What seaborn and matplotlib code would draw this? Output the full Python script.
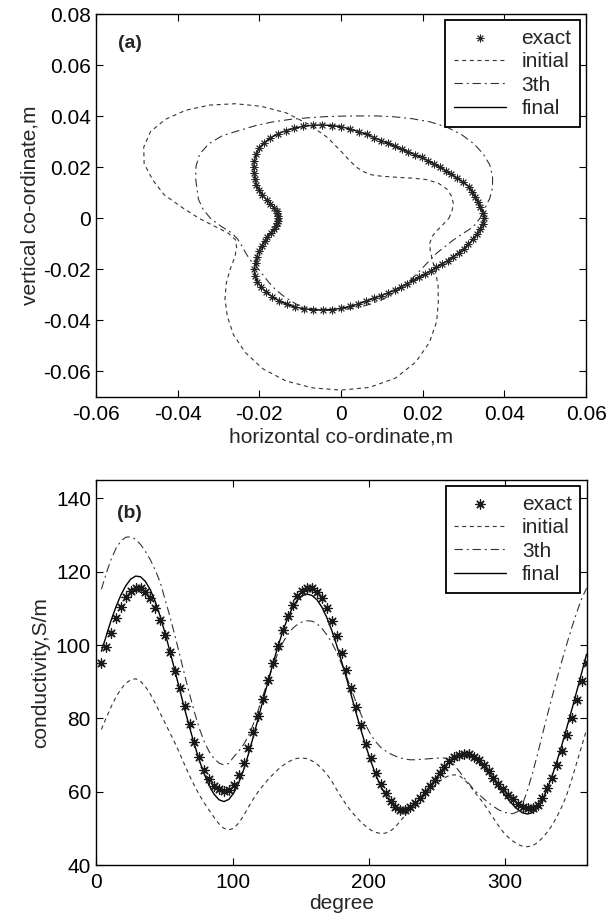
"""
Two-panel reconstruction figure: (a) boundary shape, (b) conductivity profile.
Exact profile vs initial guess, 3rd iteration and final result.
"""

import numpy as np
import pandas as pd
import matplotlib
matplotlib.use("Agg")
import matplotlib.pyplot as plt
from matplotlib.ticker import FuncFormatter
import seaborn as sns

# ──────────────────────────────────────────────
# Panel (a): boundary radius (m) against polar angle (deg)
# ──────────────────────────────────────────────
shape_angle_exact = np.arange(0, 360, 3.6)   # 100 samples round the boundary
exact_r = [
    0.0351, 0.0349, 0.0344, 0.0341, 0.0339, 0.0338, 0.0337, 0.0331, 0.0325, 0.0320,
    0.0317, 0.0314, 0.0312, 0.0310, 0.0309, 0.0308, 0.0308, 0.0308, 0.0311, 0.0315,
    0.0320, 0.0326, 0.0335, 0.0342, 0.0350, 0.0359, 0.0364, 0.0368, 0.0371, 0.0372,
    0.0371, 0.0369, 0.0365, 0.0359, 0.0351, 0.0341, 0.0327, 0.0310, 0.0293, 0.0276,
    0.0261, 0.0246, 0.0230, 0.0213, 0.0196, 0.0182, 0.0169, 0.0161, 0.0157, 0.0155,
    0.0154, 0.0155, 0.0158, 0.0163, 0.0170, 0.0181, 0.0194, 0.0207, 0.0222, 0.0238,
    0.0255, 0.0272, 0.0292, 0.0309, 0.0322, 0.0333, 0.0342, 0.0350, 0.0357, 0.0362,
    0.0365, 0.0366, 0.0365, 0.0362, 0.0358, 0.0353, 0.0346, 0.0338, 0.0330, 0.0323,
    0.0318, 0.0314, 0.0310, 0.0306, 0.0303, 0.0301, 0.0300, 0.0300, 0.0301, 0.0302,
    0.0305, 0.0309, 0.0313, 0.0318, 0.0323, 0.0328, 0.0333, 0.0338, 0.0343, 0.0347,
]
final_r = exact_r          # final shape sits on the exact one

shape_angle_iter = np.arange(0, 360, 6.0)    # 60 samples
initial_r = [
    0.0264, 0.0273, 0.0281, 0.0284, 0.0283, 0.0275, 0.0258, 0.0235, 0.0215, 0.0201,
    0.0191, 0.0186, 0.0189, 0.0200, 0.0223, 0.0262, 0.0318, 0.0375, 0.0434, 0.0480,
    0.0518, 0.0548, 0.0569, 0.0579, 0.0577, 0.0558, 0.0528, 0.0485, 0.0443, 0.0390,
    0.0348, 0.0310, 0.0282, 0.0272, 0.0280, 0.0300, 0.0335, 0.0378, 0.0425, 0.0474,
    0.0527, 0.0576, 0.0620, 0.0651, 0.0668, 0.0673, 0.0666, 0.0640, 0.0592, 0.0532,
    0.0468, 0.0405, 0.0355, 0.0311, 0.0276, 0.0252, 0.0238, 0.0234, 0.0239, 0.0250,
]
third_r = [
    0.0340, 0.0353, 0.0372, 0.0390, 0.0406, 0.0420, 0.0430, 0.0437, 0.0441, 0.0441,
    0.0436, 0.0427, 0.0418, 0.0410, 0.0403, 0.0400, 0.0400, 0.0402, 0.0407, 0.0413,
    0.0419, 0.0425, 0.0435, 0.0436, 0.0428, 0.0410, 0.0390, 0.0371, 0.0357, 0.0340,
    0.0320, 0.0296, 0.0274, 0.0266, 0.0266, 0.0270, 0.0276, 0.0280, 0.0290, 0.0305,
    0.0322, 0.0338, 0.0354, 0.0362, 0.0362, 0.0358, 0.0353, 0.0344, 0.0333, 0.0320,
    0.0306, 0.0294, 0.0284, 0.0276, 0.0272, 0.0271, 0.0277, 0.0286, 0.0302, 0.0325,
]

# ──────────────────────────────────────────────
# Panel (b): conductivity (S/m) against degree
# ──────────────────────────────────────────────
degree = np.arange(1, 101) * 3.6
cond_exact = [
    95.0, 99.4, 103.4, 107.3, 110.4, 113.0, 114.7, 115.6, 115.5, 114.5,
    112.7, 110.2, 106.7, 102.8, 98.0, 93.0, 88.2, 83.3, 78.4, 73.6,
    69.4, 66.0, 63.4, 61.6, 60.6, 60.1, 60.4, 61.9, 64.5, 67.8,
    71.9, 76.2, 80.6, 85.4, 90.4, 95.0, 99.8, 104.2, 108.0, 110.9,
    113.3, 114.8, 115.6, 115.5, 114.5, 112.7, 110.1, 106.5, 102.4, 97.9,
    93.2, 88.2, 83.1, 78.1, 73.1, 69.1, 65.2, 62.1, 59.6, 57.4,
    55.9, 55.1, 55.1, 55.7, 56.9, 58.3, 59.8, 61.6, 63.3, 65.0,
    66.8, 68.3, 69.4, 70.1, 70.4, 70.2, 69.5, 68.6, 67.2, 65.6,
    63.8, 62.2, 60.6, 59.2, 57.9, 56.7, 55.8, 55.5, 55.6, 56.5,
    58.2, 61.0, 63.7, 67.3, 71.0, 75.5, 80.1, 85.1, 90.1, 95.1,
]
cond_initial = [
    77.0, 80.2, 83.2, 85.9, 88.0, 89.6, 90.5, 90.8, 90.1, 88.6,
    86.6, 84.1, 81.4, 78.7, 76.0, 73.3, 70.4, 67.3, 64.3, 61.6,
    59.1, 56.9, 54.9, 53.0, 51.2, 50.0, 49.6, 50.0, 51.4, 53.4,
    55.8, 58.0, 60.0, 61.7, 63.3, 64.7, 66.0, 67.1, 68.0, 68.7,
    69.1, 69.2, 69.0, 68.4, 67.5, 66.3, 64.8, 62.9, 60.6, 58.4,
    56.4, 54.6, 53.1, 51.7, 50.5, 49.5, 48.9, 48.6, 48.7, 49.3,
    50.4, 52.0, 53.6, 55.2, 56.6, 57.8, 59.0, 60.3, 61.6, 62.8,
    63.8, 64.4, 64.6, 64.4, 63.4, 61.9, 60.2, 58.5, 56.8, 54.8,
    52.8, 50.8, 49.0, 47.6, 46.5, 45.6, 45.1, 45.0, 45.3, 46.1,
    47.4, 49.0, 50.9, 53.3, 56.0, 59.3, 63.4, 67.9, 72.4, 76.9,
]
cond_third = [
    115.2, 119.6, 123.4, 126.4, 128.4, 129.4, 129.5, 128.8, 127.4, 125.5,
    123.2, 120.4, 117.1, 112.4, 107.7, 102.6, 97.2, 91.8, 86.6, 81.6,
    77.2, 73.6, 70.9, 69.0, 67.8, 67.3, 67.7, 69.5, 71.0, 72.8,
    75.2, 78.4, 82.2, 86.3, 90.3, 94.2, 97.7, 100.6, 102.8, 104.5,
    105.6, 106.3, 106.6, 106.5, 105.8, 104.5, 102.8, 100.7, 98.0, 94.9,
    91.5, 87.9, 84.3, 81.0, 78.0, 75.5, 73.6, 72.1, 71.1, 70.3,
    69.7, 69.2, 68.9, 68.7, 68.7, 68.8, 68.9, 69.0, 69.1, 69.2,
    69.2, 68.6, 67.3, 65.6, 63.8, 62.2, 60.6, 59.3, 58.1, 57.0,
    56.0, 55.1, 54.5, 54.1, 54.0, 54.6, 56.8, 60.6, 65.2, 70.2,
    75.6, 80.9, 86.0, 91.0, 95.8, 100.4, 104.8, 108.9, 112.6, 115.5,
]
cond_final = [
    98.3, 102.5, 106.8, 110.5, 113.7, 116.2, 118.0, 118.8, 118.6, 117.3,
    115.0, 111.8, 107.8, 103.2, 98.2, 93.0, 87.7, 82.5, 77.5, 72.8,
    68.5, 64.8, 61.6, 59.3, 57.8, 57.3, 57.9, 59.6, 62.3, 65.9,
    70.2, 75.0, 80.0, 85.0, 90.0, 94.9, 99.5, 103.7, 107.3, 110.2,
    112.3, 113.5, 113.9, 113.5, 112.3, 110.3, 107.5, 104.0, 100.0, 95.6,
    91.0, 86.2, 81.4, 76.7, 72.3, 68.2, 64.6, 61.5, 59.0, 57.1,
    55.7, 55.0, 55.0, 55.6, 56.7, 58.1, 59.7, 61.4, 63.2, 65.0,
    66.7, 68.2, 69.3, 70.0, 70.2, 69.9, 69.2, 68.1, 66.7, 65.1,
    63.3, 61.5, 59.7, 58.0, 56.4, 55.1, 54.2, 53.9, 54.3, 55.6,
    57.8, 60.8, 64.4, 68.5, 72.9, 77.6, 82.4, 87.4, 92.4, 97.5,
]

# ──────────────────────────────────────────────
# Styling
# ──────────────────────────────────────────────
sns.set_style("ticks")
plt.rcParams["font.family"] = ["Liberation Sans", "DejaVu Sans"]
plt.rcParams["axes.unicode_minus"] = False
plt.rcParams["lines.scale_dashes"] = False

FS = 15
STAR = (8, 2, 0)
INITIAL_LS = (0, (2.9, 2.6))
THIRD_LS = (0, (6.0, 2.8, 1.4, 2.8))
LINE_C = "0.2"


def polar_to_xy(angle_deg, radius, close=True):
    a = np.deg2rad(np.asarray(angle_deg, dtype=float))
    r = np.asarray(radius, dtype=float)
    df = pd.DataFrame({"x": r * np.cos(a), "y": r * np.sin(a)})
    if close:
        df = pd.concat([df, df.iloc[:1]], ignore_index=True)
    return df


def matlab_fmt(v, _pos):
    v = round(v, 6)
    return "0" if v == 0 else f"{v:g}"


def style_axes(ax):
    for s in ax.spines.values():
        s.set_linewidth(1.0)
        s.set_color("black")
    ax.tick_params(direction="in", top=True, right=True, length=5, width=0.8,
                   labelsize=FS, colors="black")
    ax.tick_params(axis="x", pad=6)
    ax.tick_params(axis="y", pad=4)
    ax.xaxis.set_major_formatter(FuncFormatter(matlab_fmt))
    ax.yaxis.set_major_formatter(FuncFormatter(matlab_fmt))


def add_legend(ax):
    leg = ax.legend(loc="upper right", fontsize=FS, frameon=True, fancybox=False,
                    edgecolor="black", framealpha=1, borderaxespad=0.3,
                    handlelength=2.5, handletextpad=0.75, labelspacing=0.22,
                    borderpad=0.4)
    leg.get_frame().set_linewidth(1.3)


fig = plt.figure(figsize=(6.08, 9.22), dpi=100)
ax1 = fig.add_axes([0.158, 0.5694, 0.806, 0.4154])
ax2 = fig.add_axes([0.1587, 0.0618, 0.806, 0.4176])

# ── (a) shape ──
ex = polar_to_xy(shape_angle_exact, exact_r, close=False)
sns.scatterplot(data=ex, x="x", y="y", ax=ax1, marker=STAR, s=26, color="0.15",
                linewidth=0.7, label="exact", zorder=4)
ini = polar_to_xy(shape_angle_iter, initial_r)
sns.lineplot(data=ini, x="x", y="y", ax=ax1, sort=False, estimator=None,
             color=LINE_C, lw=0.8, linestyle=INITIAL_LS, label="initial")
thr = polar_to_xy(shape_angle_iter, third_r)
sns.lineplot(data=thr, x="x", y="y", ax=ax1, sort=False, estimator=None,
             color=LINE_C, lw=0.8, linestyle=THIRD_LS, label="3th")
fin = polar_to_xy(shape_angle_exact, final_r)
sns.lineplot(data=fin, x="x", y="y", ax=ax1, sort=False, estimator=None,
             color="black", lw=1.0, label="final", zorder=3)

ax1.set_xlim(-0.06, 0.06)
ax1.set_ylim(-0.07, 0.08)
ax1.set_xticks(np.arange(-0.06, 0.061, 0.02))
ax1.set_yticks(np.arange(-0.06, 0.081, 0.02))
style_axes(ax1)
ax1.set_xlabel("horizontal co-ordinate,m", fontsize=FS, labelpad=2)
ax1.set_ylabel("vertical co-ordinate,m", fontsize=FS, labelpad=2)
ax1.text(0.07, 0.924, "(a)", transform=ax1.transAxes, fontsize=14,
         fontweight="bold", ha="center", va="center")
add_legend(ax1)

# ── (b) conductivity ──
cond = pd.DataFrame({"degree": degree, "exact": cond_exact, "initial": cond_initial,
                     "third": cond_third, "final": cond_final})
sns.scatterplot(data=cond, x="degree", y="exact", ax=ax2, marker=STAR, s=45,
                color="0.1", linewidth=0.9, label="exact", zorder=4)
sns.lineplot(data=cond, x="degree", y="initial", ax=ax2, color=LINE_C, lw=0.8,
             linestyle=INITIAL_LS, label="initial")
sns.lineplot(data=cond, x="degree", y="third", ax=ax2, color=LINE_C, lw=0.8,
             linestyle=THIRD_LS, label="3th")
sns.lineplot(data=cond, x="degree", y="final", ax=ax2, color="black", lw=1.0,
             label="final", zorder=3)

ax2.set_xlim(0, 360)
ax2.set_ylim(40, 145)
ax2.set_xticks([0, 100, 200, 300])
ax2.set_yticks(np.arange(40, 141, 20))
style_axes(ax2)
ax2.set_xlabel("degree", fontsize=FS, labelpad=1)
ax2.set_ylabel("conductivity,S/m", fontsize=FS, labelpad=4)
ax2.text(0.068, 0.914, "(b)", transform=ax2.transAxes, fontsize=14,
         fontweight="bold", ha="center", va="center")
add_legend(ax2)

fig.savefig("out.png", dpi=100)
plt.close(fig)
